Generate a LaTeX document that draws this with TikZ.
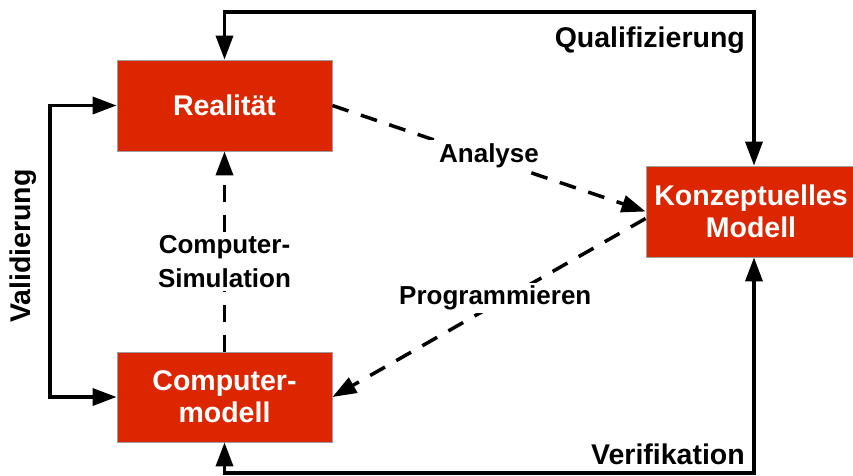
\documentclass[tikz,border=0pt]{standalone}
\usepackage{fontspec}
\setmainfont{Liberation Sans}
\usetikzlibrary{arrows.meta}
\definecolor{boxred}{RGB}{220,38,0}

\begin{document}
\begin{tikzpicture}[x=1pt,y=-1pt,
  block/.style={draw=gray!75, line width=0.8pt, fill=boxred, text=white,
    font=\fontsize{28.5}{32}\selectfont\bfseries, align=center, inner sep=0pt},
  flow/.style={line width=3.5pt, -{Triangle[length=24pt,width=17pt]}},
  twoway/.style={line width=3.5pt, {Triangle[length=24pt,width=17pt]}-{Triangle[length=24pt,width=17pt]}},
  dflow/.style={flow, dash pattern=on 17pt off 13pt},
  lbl/.style={font=\fontsize{26}{34}\selectfont\bfseries, fill=white, align=center,
    inner xsep=10pt, inner ysep=3pt},
  olbl/.style={font=\fontsize{28.5}{32}\selectfont\bfseries, inner sep=0pt}]
\useasboundingbox (0,0) rectangle (853,475);

% the three model stages
\node[block, minimum width=215pt, minimum height=91pt] (real) at (224.5,105.5) {Realität};
\node[block, minimum width=210pt, minimum height=91pt] (konz) at (751,211.5) {Konzeptuelles\\Modell};
\node[block, minimum width=215pt, minimum height=90pt] (comp) at (224.5,397) {Computer-\\modell};

% routing points of the outer loops
\coordinate (qtop) at (754,12);
\coordinate (vbot) at (754,473);
\coordinate (vleft) at (50,250);

% outer loops
\draw[twoway] (real.north) |- (qtop) -- (qtop |- konz.north);
\draw[twoway] (comp.south) |- (vbot) -- (vbot |- konz.south);
\draw[twoway] (real.west) -| (vleft) |- (comp.west);

% dashed transitions
\draw[dflow] (real.east) -- node[lbl, pos=0.5, yshift=3pt] {Analyse} (konz.west);
\draw[dflow] ([yshift=-7pt]konz.west) -- node[lbl, pos=0.48, yshift=6pt] {Programmieren} (comp.east);
\draw[dflow] (comp.north) -- node[lbl, inner xsep=3pt, pos=0.45] {Computer-\\Simulation} (real.south);

% loop labels
\node[olbl, anchor=east] (qlab) at (745,40) {Qualifizierung};
\node[olbl, anchor=east] (vlab) at (745,454) {Verifikation};
\node[olbl, rotate=90] (valab) at (23,246) {Validierung};
\end{tikzpicture}
\end{document}
